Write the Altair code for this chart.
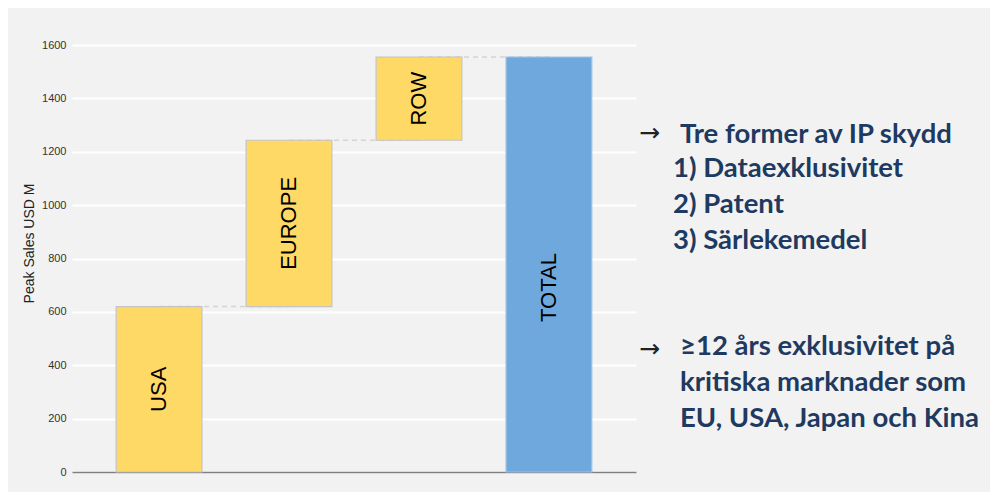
import altair as alt
import pandas as pd

# ---- data ----
categories = ["USA", "EUROPE", "ROW", "TOTAL"]
contributions = [620, 623, 312]          # USA, EUROPE, ROW (USD M)
kinds = ["part", "part", "part", "total"]

note_line_1 = "Tre former av IP skydd"
note_list_1 = ["1) Dataexklusivitet", "2) Patent", "3) Särlekemedel"]
note_list_2 = ["≥12 års exklusivitet på", "kritiska marknader som", "EU, USA, Japan och Kina"]
arrow = "→"
y_title = "Peak Sales USD M"
y_ticks = [0, 200, 400, 600, 800, 1000, 1200, 1400, 1600]

# ---- build waterfall table ----
starts, ends = [], []
running = 0
for v in contributions:
    starts.append(running)
    running += v
    ends.append(running)
starts.append(0)
ends.append(running)
next_cat = categories[1:] + [None]
df = pd.DataFrame({
    "cat": categories,
    "start": starts,
    "end": ends,
    "kind": kinds,
    "next": next_cat,
})
df["mid"] = (df["start"] + df["end"]) / 2

W, H = 564, 427
x = alt.X("cat:N", sort=categories,
          scale=alt.Scale(paddingInner=0.34, paddingOuter=0.34),
          axis=alt.Axis(title=None, labels=False, ticks=False, domain=True,
                        domainColor="#7f7f7f", domainWidth=1.5, grid=False))
yscale = alt.Scale(domain=[0, 1600], nice=False)

base = alt.Chart(df)

connectors = base.transform_filter("datum.next != null").mark_rule(
    color="#d4d4d4", strokeDash=[5, 4], strokeWidth=1.5
).encode(
    x=x,
    x2="next:N",
    y=alt.Y("end:Q", scale=yscale),
)

bars = base.mark_bar(strokeWidth=1.2).encode(
    x=x,
    y=alt.Y("start:Q", scale=yscale,
            axis=alt.Axis(values=y_ticks, format="d", title=y_title, grid=True,
                          gridColor="#ffffff", gridWidth=2, domain=False,
                          ticks=False, tickSize=0, labelPadding=6,
                          labelFont="Liberation Sans", labelFontSize=11,
                          labelColor="#333333",
                          titleFont="Liberation Sans", titleFontSize=14,
                          titleFontWeight="normal", titleColor="#222222",
                          titleAngle=270, titleBaseline="alphabetic",
                          titleX=-39, titleY=198, titleAlign="center")),
    y2="end:Q",
    color=alt.Color("kind:N", scale=alt.Scale(domain=["part", "total"],
                                              range=["#FFD966", "#6FA8DC"]),
                    legend=None),
    stroke=alt.Stroke("kind:N", scale=alt.Scale(domain=["part", "total"],
                                                range=["#c4c4c4", "#9dc3e6"]),
                      legend=None),
)

labels_parts = base.transform_filter("datum.kind == 'part'").mark_text(
    angle=270, font="Liberation Sans", fontSize=22, color="#000000",
    align="center", baseline="middle"
).encode(x=x, y=alt.Y("mid:Q", scale=yscale), text="cat:N")

labels_total = base.transform_filter("datum.kind == 'total'").mark_text(
    angle=270, font="Liberation Sans", fontSize=22, color="#000000",
    align="center", baseline="middle", dx=-23
).encode(x=x, y=alt.Y("mid:Q", scale=yscale), text="cat:N")

one = alt.Data(values=[{}])
navy = "#1F3A60"
note_font = "Lato"
note_size = 27.5

arrow1 = alt.Chart(one).mark_text(
    text=arrow, font="DejaVu Sans", fontSize=25, fontWeight="normal",
    color="#222222", align="left", baseline="middle"
).encode(x=alt.value(567), y=alt.value(88))

arrow2 = alt.Chart(one).mark_text(
    text=arrow, font="DejaVu Sans", fontSize=25, fontWeight="normal",
    color="#222222", align="left", baseline="middle"
).encode(x=alt.value(567), y=alt.value(304))

line1 = alt.Chart(one).mark_text(
    text=note_line_1, font=note_font, fontWeight="bold", fontSize=note_size,
    color=navy, align="left", baseline="alphabetic"
).encode(x=alt.value(608), y=alt.value(98))

block1 = alt.Chart(one).mark_text(
    text=note_list_1, font=note_font, fontWeight="bold", fontSize=note_size,
    color=navy, align="left", baseline="alphabetic", lineHeight=35.8
).encode(x=alt.value(601), y=alt.value(132))

block2 = alt.Chart(one).mark_text(
    text=note_list_2, font=note_font, fontWeight="bold", fontSize=note_size,
    color=navy, align="left", baseline="alphabetic", lineHeight=35.8
).encode(x=alt.value(608), y=alt.value(310))

chart = alt.layer(
    connectors, bars, labels_parts, labels_total,
    arrow1, arrow2, line1, block1, block2
).properties(
    width=W, height=H,
    autosize="none",
    padding={"left": 64, "top": 37, "right": 354, "bottom": 20},
    background="#f2f2f2",
).configure_view(stroke=None)

chart.save("out.html", embed_options={"renderer": "svg", "actions": False})
